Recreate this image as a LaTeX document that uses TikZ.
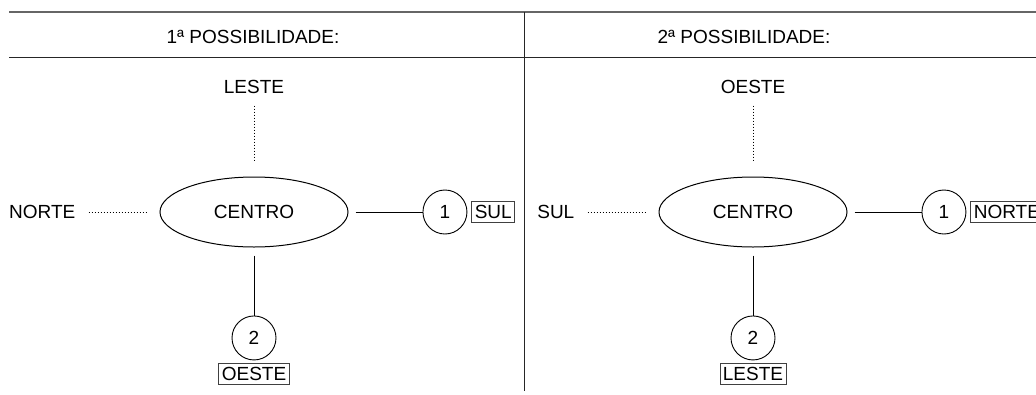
\documentclass[tikz,border=0pt]{standalone}
\usepackage{fontspec}
\setmainfont{Liberation Sans}
\usetikzlibrary{positioning,shapes.geometric}
\begin{document}
\begin{tikzpicture}[x=1pt,y=-1pt,font=\fontsize{19}{23}\selectfont]
% directions around the centre, two possibilities
\tikzstyle{centro} = [ellipse, draw=black, line width=1pt, minimum width=188pt, minimum height=70pt, inner sep=0pt]
\tikzstyle{numero} = [circle, draw=black, line width=0.9pt, minimum size=44pt, inner sep=0pt]
\tikzstyle{rotulo} = [inner sep=3pt]
\tikzstyle{caixa} = [rectangle, draw=black!75, line width=0.8pt, inner xsep=3pt, inner ysep=3.5pt]
\tikzstyle{pontos} = [line width=0.8pt, dash pattern=on 1.5pt off 1.5pt]
\tikzstyle{linha} = [line width=0.9pt]
\useasboundingbox (0,0) rectangle (1036,394);
% table lines
\draw [line width=1.5pt, black!60] (9,12) -- (1036,12);
\draw [line width=1pt, black!85] (9,57) -- (1036,57);
\draw [line width=1pt, black!85] (524,12) -- (524,391);
\node (tituloA) at (253,37) {1ª POSSIBILIDADE:};
\node (tituloB) at (744,37) {2ª POSSIBILIDADE:};
% first possibility
\node (centroA) [centro] at (254,212) {CENTRO};
\node (lesteA) [rotulo, above=80pt of centroA] {LESTE};
\node (norteA) [rotulo, left=81pt of centroA] {NORTE};
\node (umA) [numero, right=74pt of centroA] {1};
\node (sulA) [caixa, right=4pt of umA] {SUL};
\node (doisA) [numero, below=68pt of centroA] {2};
\node (oesteA) [caixa, below=3pt of doisA] {OESTE};
\draw [pontos, shorten <=9pt, shorten >=14pt] (lesteA) -- (centroA);
\draw [pontos, shorten <=10pt, shorten >=13pt] (norteA) -- (centroA);
\draw [linha, shorten <=7pt] (centroA) -- (umA);
\draw [linha, shorten <=8pt] (centroA) -- (doisA);
% second possibility
\node (centroB) [centro] at (753,212) {CENTRO};
\node (oesteB) [rotulo, above=80pt of centroB] {OESTE};
\node (sulB) [rotulo, left=81pt of centroB] {SUL};
\node (umB) [numero, right=74pt of centroB] {1};
\node (norteB) [caixa, right=4pt of umB] {NORTE};
\node (doisB) [numero, below=68pt of centroB] {2};
\node (lesteB) [caixa, below=3pt of doisB] {LESTE};
\draw [pontos, shorten <=9pt, shorten >=14pt] (oesteB) -- (centroB);
\draw [pontos, shorten <=10pt, shorten >=13pt] (sulB) -- (centroB);
\draw [linha, shorten <=7pt] (centroB) -- (umB);
\draw [linha, shorten <=8pt] (centroB) -- (doisB);
\end{tikzpicture}
\end{document}
